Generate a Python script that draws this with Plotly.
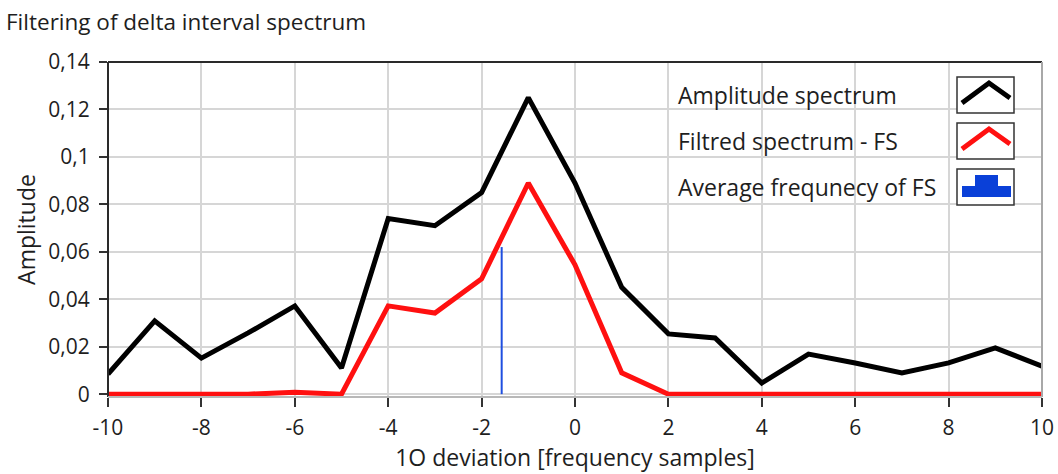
import plotly.graph_objects as go

# Frequency-sample offsets and spectrum amplitudes
offsets = list(range(-10, 11))
amplitude_spectrum = [0.0085, 0.0309, 0.0152, 0.0258, 0.0372, 0.0110, 0.0740, 0.0710,
                      0.0850, 0.1250, 0.0890, 0.0450, 0.0254, 0.0237, 0.0047, 0.0169,
                      0.0131, 0.0089, 0.0132, 0.0195, 0.0118]
filtered_spectrum = [0.0, 0.0, 0.0, 0.0, 0.0008, 0.0, 0.0372, 0.0342,
                     0.0486, 0.0890, 0.0545, 0.0090, 0.0, 0.0, 0.0, 0.0,
                     0.0, 0.0, 0.0, 0.0, 0.0]
avg_frequency = -1.57
avg_marker_height = 0.062

x_ticks = list(range(-10, 11, 2))
x_tick_labels = ["-10", "-8", "-6", "-4", "-2", "0", "2", "4", "6", "8", "10"]
y_ticks = [0, 0.02, 0.04, 0.06, 0.08, 0.1, 0.12, 0.14]
y_tick_labels = ["0", "0,02", "0,04", "0,06", "0,08", "0,1", "0,12", "0,14"]

legend_labels = ["Amplitude spectrum", "Filtred spectrum - FS", "Average frequnecy of FS"]

W, H = 1058, 474
L, R, T, B = 108, 1042, 62, 397
FONT = "Open Sans"
TXT = "#1e1e1e"


def px(x):
    return (x - L) / (R - L)


def py(y):
    return (B - y) / (B - T)


fig = go.Figure()

fig.add_trace(go.Scatter(
    x=[avg_frequency, avg_frequency], y=[0, avg_marker_height], mode="lines",
    line=dict(color="#1f4fe0", width=2), hoverinfo="skip", showlegend=False))
fig.add_trace(go.Scatter(
    x=offsets, y=amplitude_spectrum, mode="lines", name=legend_labels[0],
    line=dict(color="#000000", width=5), showlegend=False))
fig.add_trace(go.Scatter(
    x=offsets, y=filtered_spectrum, mode="lines", name=legend_labels[1],
    line=dict(color="#ff1010", width=5), showlegend=False))

shapes = []
# plot frame: dark on top/left, lighter on bottom/right
shapes.append(dict(type="line", xref="paper", yref="paper", x0=0, x1=1, y0=1, y1=1,
                   line=dict(color="#2a2a2a", width=2), layer="above"))
shapes.append(dict(type="line", xref="paper", yref="paper", x0=0, x1=0, y0=0, y1=1,
                   line=dict(color="#2a2a2a", width=2), layer="above"))
shapes.append(dict(type="line", xref="paper", yref="paper", x0=1, x1=1, y0=0, y1=1,
                   line=dict(color="#a8a8a8", width=2), layer="above"))
shapes.append(dict(type="line", xref="paper", yref="paper", x0=0, x1=1, y0=0, y1=0,
                   line=dict(color="#b8b8b8", width=2), layer="above"))

# legend boxes with sample glyphs
box_x0, box_x1 = 957, 1014
box_tops = [77, 123, 169]
box_h = 36
for top in box_tops:
    shapes.append(dict(type="rect", xref="paper", yref="paper",
                       x0=px(box_x0), x1=px(box_x1), y0=py(top + box_h), y1=py(top),
                       line=dict(color="#333333", width=1.5), fillcolor="white",
                       layer="above"))

for top, col in zip(box_tops[:2], ["#000000", "#ff1010"]):
    path = (f"M {px(962)},{py(top + 26)} L {px(989)},{py(top + 6)} "
            f"L {px(1010)},{py(top + 21)}")
    shapes.append(dict(type="path", xref="paper", yref="paper", path=path,
                       line=dict(color=col, width=5), layer="above"))

top = box_tops[2]
step = (f"M {px(962)},{py(top + 28)} L {px(962)},{py(top + 17)} L {px(975)},{py(top + 17)} "
        f"L {px(975)},{py(top + 6)} L {px(998)},{py(top + 6)} L {px(998)},{py(top + 17)} "
        f"L {px(1011)},{py(top + 17)} L {px(1011)},{py(top + 28)} Z")
shapes.append(dict(type="path", xref="paper", yref="paper", path=step,
                   fillcolor="#0a40d8", line=dict(color="#0a40d8", width=0), layer="above"))

annotations = []
for top, lab in zip(box_tops, legend_labels):
    annotations.append(dict(xref="paper", yref="paper", x=px(676), y=py(top + box_h / 2),
                            xanchor="left", yanchor="middle", text=lab, showarrow=False,
                            font=dict(family=FONT, size=23, color=TXT)))

fig.update_layout(
    width=W, height=H,
    margin=dict(l=L, r=W - R, t=T, b=H - B, autoexpand=False),
    paper_bgcolor="white", plot_bgcolor="white",
    font=dict(family=FONT, size=21, color=TXT),
    title=dict(text="Filtering of delta interval spectrum", x=6 / W, xanchor="left",
               y=1 - 22 / H, yanchor="middle", font=dict(family=FONT, size=22.5, color=TXT)),
    shapes=shapes, annotations=annotations,
    xaxis=dict(range=[-10, 10], tickvals=x_ticks, ticktext=x_tick_labels, automargin=False,
               showgrid=True, gridcolor="#d6d6d6",
               gridwidth=2, zeroline=False, showline=False, ticks="outside", ticklen=9,
               tickwidth=2, tickcolor="#333333", ticklabelstandoff=3,
               title=dict(text="1O deviation [frequency samples]", standoff=8,
                          font=dict(family=FONT, size=23, color=TXT))),
    yaxis=dict(range=[-0.0012, 0.14], tickvals=y_ticks, ticktext=y_tick_labels,
               automargin=False,
               showgrid=True, gridcolor="#d6d6d6", gridwidth=2, zeroline=False,
               showline=False, ticks="outside", ticklen=8, tickwidth=2,
               tickcolor="#333333", ticklabelstandoff=5,
               title=dict(text="Amplitude", standoff=6,
                          font=dict(family=FONT, size=23, color=TXT))),
)

fig.write_html("out.html")
